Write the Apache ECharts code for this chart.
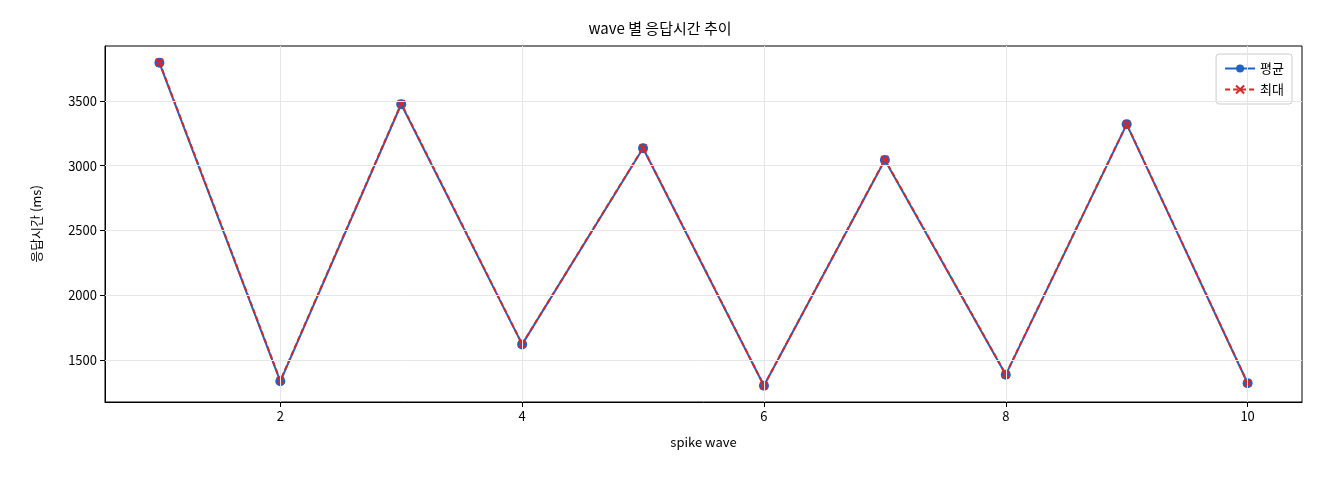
<!DOCTYPE html>
<html><head><meta charset="utf-8">
<script src="https://cdn.jsdelivr.net/npm/echarts@6/dist/echarts.min.js"></script>
<style>body{margin:0}#c{width:1320px;height:480px}</style></head>
<body><div id="c"></div>
<script>
const waves=[1,2,3,4,5,6,7,8,9,10];
const avgVals=[3795,1335,3475,1620,3135,1300,3045,1385,3320,1320];
const maxVals=[3800,1340,3480,1622,3138,1302,3048,1388,3322,1322];
const xTicks=[2,4,6,8,10];
const yTicks=[1500,2000,2500,3000,3500];
const font='"Noto Sans CJK KR", sans-serif';
const chart=echarts.init(document.getElementById('c'));
const ax={color:'#000',fontFamily:font,fontSize:13};
chart.setOption({
 animation:false,
 title:{text:'wave 별 응답시간 추이',left:'center',top:16,textStyle:{fontFamily:font,fontSize:15,fontWeight:'normal',color:'#000'}},
 grid:{left:105,right:18,top:46,bottom:78,show:true,borderColor:'#000',borderWidth:1,backgroundColor:'transparent'},
 legend:{right:28,top:54,orient:'vertical',itemGap:8,backgroundColor:'#fff',borderColor:'#ccc',borderWidth:1,borderRadius:3,padding:[8,8],textStyle:{fontFamily:font,fontSize:13,color:'#000'},itemWidth:30,itemHeight:10,
  data:['평균','최대']},
 xAxis:{type:'value',min:0.55,max:10.45,name:'spike wave',nameLocation:'middle',nameGap:34,nameTextStyle:ax,
  axisLine:{onZero:false,lineStyle:{color:'#000'}},axisTick:{customValues:xTicks,lineStyle:{color:'#000'}},
  axisLabel:Object.assign({customValues:xTicks,margin:8},ax),splitLine:{show:false}},
 yAxis:{type:'value',min:1175,max:3925,name:'응답시간 (ms)',nameLocation:'middle',nameGap:62,nameTextStyle:ax,
  axisLine:{show:true,lineStyle:{color:'#000'}},axisTick:{show:true,customValues:yTicks,lineStyle:{color:'#000'}},
  axisLabel:Object.assign({customValues:yTicks,margin:8,formatter:v=>String(v)},ax),splitLine:{show:false}},
 series:[
  {name:'grid',type:'line',data:[],silent:true,
   markLine:{symbol:'none',silent:true,label:{show:false},lineStyle:{color:'#e6e6e6',type:'solid',width:1},
    data:xTicks.map(v=>({xAxis:v})).concat(yTicks.map(v=>({yAxis:v})))}},
  {name:'평균',type:'line',data:waves.map((w,i)=>[w,avgVals[i]]),symbol:'circle',symbolSize:10,
   itemStyle:{color:'#1f63c2'},lineStyle:{color:'#1f63c2',width:2},z:3},
  {name:'최대',type:'line',data:waves.map((w,i)=>[w,maxVals[i]]),
   symbol:'path://M0,0L10,10M10,0L0,10',symbolSize:7,
   itemStyle:{color:'#d62728',borderColor:'#d62728',borderWidth:2},lineStyle:{color:'#d62728',width:2,type:[5,3]},z:4}
 ]
});
</script></body></html>
